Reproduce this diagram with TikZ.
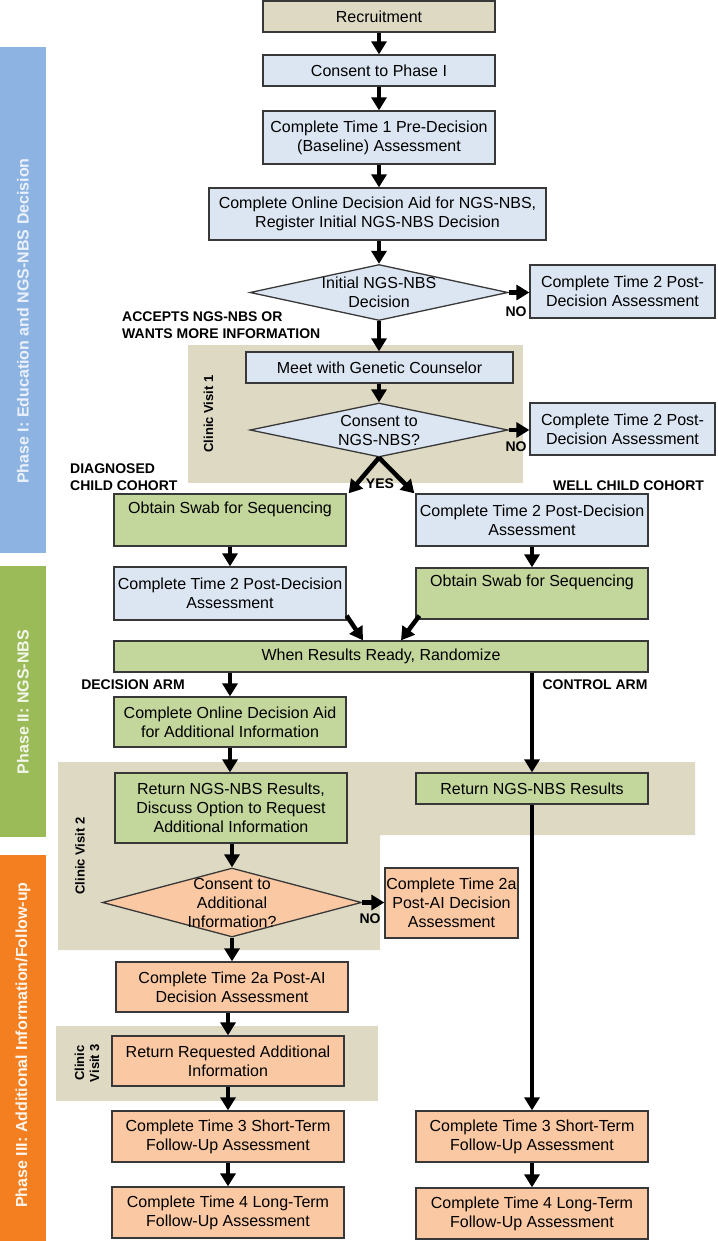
\documentclass[tikz,border=0pt]{standalone}
\usepackage{fontspec}
\setmainfont{Liberation Sans}
\usetikzlibrary{arrows.meta,shapes.geometric,calc}
\definecolor{tanbg}{HTML}{DDD9C3}
\definecolor{bluebox}{HTML}{DCE6F2}
\definecolor{greenbox}{HTML}{C3D69B}
\definecolor{peach}{HTML}{FAC8A2}
\definecolor{barblue}{HTML}{8DB3E2}
\definecolor{bargreen}{HTML}{9BBB59}
\definecolor{barorange}{HTML}{F47F20}
\definecolor{edge}{HTML}{383838}
\begin{document}
\begin{tikzpicture}[x=1pt,y=-1pt,
  box/.style={draw=edge, line width=1.3pt, align=center, inner sep=0pt,
    font=\fontsize{16}{19}\selectfont},
  dia/.style={diamond, draw=edge, line width=1.3pt, inner sep=0pt, aspect=4.6},
  dtxt/.style={align=center, inner sep=0pt, font=\fontsize{16}{19}\selectfont},
  arr/.style={line width=4.5pt, -{Triangle[width=15pt,length=13pt]}},
  lbl/.style={inner sep=0pt, font=\bfseries\fontsize{14}{17}\selectfont},
  bartxt/.style={inner sep=0pt, rotate=90, font=\bfseries\fontsize{16}{19}\selectfont},
  cvtxt/.style={inner sep=0pt, rotate=90, align=center, font=\bfseries\fontsize{13}{15}\selectfont},
]
\useasboundingbox (0,0) rectangle (717,1241);

% phase bars
\fill[barblue] (0,47) rectangle (46,553);
\fill[bargreen] (0,566) rectangle (46,837);
\fill[barorange] (0,855) rectangle (46,1241);
\node[bartxt, text=white!82!barblue] (ph1) at (23,321) {Phase I: Education and NGS-NBS Decision};
\node[bartxt, text=white!88!bargreen] (ph2) at (23,702) {Phase II: NGS-NBS};
\node[bartxt, text=white!92!barorange] (ph3) at (23,1045) {Phase III: Additional Information/Follow-up};

% clinic visit backgrounds
\fill[tanbg] (188,345) rectangle (523,483);
\fill[tanbg] (58,762) -- (695,762) -- (695,835) -- (380,835) -- (380,950) -- (58,950) -- cycle;
\fill[tanbg] (56,1026) rectangle (378,1101);
\node[cvtxt] (cv1) at (208.5,414) {Clinic Visit 1};
\node[cvtxt] (cv2) at (80,856) {Clinic Visit 2};
\node[cvtxt] (cv3) at (87,1063) {Clinic\\Visit 3};

% phase I
\node[box, fill=tanbg, minimum width=232pt, minimum height=31pt] (rec) at (379,16.5) {Recruitment};
\node[box, fill=bluebox, minimum width=232pt, minimum height=31pt] (cons1) at (379,70.5) {Consent to Phase I};
\node[box, fill=bluebox, minimum width=232pt, minimum height=53pt] (t1) at (379,137.5) {Complete Time 1 Pre-Decision\\(Baseline) Assessment};
\node[box, fill=bluebox, minimum width=337pt, minimum height=52pt] (oda) at (377.5,214) {Complete Online Decision Aid for NGS-NBS,\\Register Initial NGS-NBS Decision};
\node[dia, fill=bluebox, minimum width=258pt, minimum height=56pt] (d1) at (379,292.5) {};
\node[dtxt] (d1t) at (379,292.5) {Initial NGS-NBS\\Decision};
\node[box, fill=bluebox, minimum width=185pt, minimum height=53pt] (no1) at (622.5,291.5) {Complete Time 2 Post-\\Decision Assessment};
\node[box, fill=bluebox, minimum width=267pt, minimum height=31pt] (meet) at (379.5,367.5) {Meet with Genetic Counselor};
\node[dia, fill=bluebox, minimum width=258pt, minimum height=54pt] (d2) at (379,430) {};
\node[dtxt] (d2t) at (379,430) {Consent to\\NGS-NBS?};
\node[box, fill=bluebox, minimum width=185pt, minimum height=52pt] (no2) at (622.5,429) {Complete Time 2 Post-\\Decision Assessment};

% cohorts
\node[box, fill=greenbox, minimum width=232pt, minimum height=52pt] (swabL) at (230,520) {Obtain Swab for Sequencing\\\strut};
\node[box, fill=bluebox, minimum width=232pt, minimum height=52pt] (t2R) at (532,520) {Complete Time 2 Post-Decision\\Assessment};
\node[box, fill=bluebox, minimum width=232pt, minimum height=53pt] (t2L) at (230,593.5) {Complete Time 2 Post-Decision\\Assessment};
\node[box, fill=greenbox, minimum width=232pt, minimum height=51pt] (swabR) at (532,593.5) {Obtain Swab for Sequencing\\\strut};

% phase II
\node[box, fill=greenbox, minimum width=534pt, minimum height=31pt] (rand) at (381,656.5) {When Results Ready, Randomize};
\node[box, fill=greenbox, minimum width=232pt, minimum height=50pt] (odaAI) at (230,722) {Complete Online Decision Aid\\for Additional Information};
\node[box, fill=greenbox, minimum width=232pt, minimum height=70pt] (retL) at (231,808) {Return NGS-NBS Results,\\Discuss Option to Request\\Additional Information};
\node[box, fill=greenbox, minimum width=232pt, minimum height=31pt] (retR) at (532,788.5) {Return NGS-NBS Results};

% phase III
\node[dia, fill=peach, minimum width=259pt, minimum height=69pt] (d3) at (232,902.5) {};
\node[dtxt] (d3t) at (232,902.5) {Consent to\\Additional\\Information?};
\node[box, fill=peach, minimum width=133pt, minimum height=70pt] (t2aR) at (451.5,903) {Complete Time 2a\\Post-AI Decision\\Assessment};
\node[box, fill=peach, minimum width=232pt, minimum height=50pt] (t2aL) at (232,987) {Complete Time 2a Post-AI\\Decision Assessment};
\node[box, fill=peach, minimum width=232pt, minimum height=50pt] (rra) at (228,1061) {Return Requested Additional\\Information};
\node[box, fill=peach, minimum width=232pt, minimum height=51pt] (t3L) at (228,1136.5) {Complete Time 3 Short-Term\\Follow-Up Assessment};
\node[box, fill=peach, minimum width=232pt, minimum height=51pt] (t4L) at (228,1212.5) {Complete Time 4 Long-Term\\Follow-Up Assessment};
\node[box, fill=peach, minimum width=232pt, minimum height=51pt] (t3R) at (532,1136.5) {Complete Time 3 Short-Term\\Follow-Up Assessment};
\node[box, fill=peach, minimum width=232pt, minimum height=51pt] (t4R) at (532,1213.5) {Complete Time 4 Long-Term\\Follow-Up Assessment};

% labels
\node[lbl, anchor=west, align=left] (acc) at (122,325) {ACCEPTS NGS-NBS OR\\WANTS MORE INFORMATION};
\node[lbl] (no1l) at (516,312) {NO};
\node[lbl] (no2l) at (516,447) {NO};
\node[lbl] (yes) at (380,484) {YES};
\node[lbl, anchor=west, align=left] (diag) at (70,477) {DIAGNOSED\\CHILD COHORT};
\node[lbl] (well) at (628.5,486) {WELL CHILD COHORT};
\node[lbl] (decarm) at (133,685) {DECISION ARM};
\node[lbl] (ctlarm) at (595,685) {CONTROL ARM};
\node[lbl] (no3l) at (370,919) {NO};

% connectors
\draw[arr] (rec.south) -- (cons1.north);
\draw[arr] (cons1.south) -- (t1.north);
\draw[arr] (t1.south) -- (t1.south |- oda.north);
\draw[arr] (oda.south -| d1.north) -- (d1.north);
\draw[arr] (d1.east) -- (d1.east -| no1.west);
\draw[arr] (d1.south) -- (d1.south |- meet.north);
\draw[arr] (meet.south -| d2.north) -- (d2.north);
\draw[arr] (d2.east) -- (d2.east -| no2.west);
\draw[arr] (d2.south) -- ([xshift=2pt]swabL.north east);
\draw[arr] (d2.south) -- ([xshift=-1pt]t2R.north west);
\draw[arr] (swabL.south) -- (swabL.south |- t2L.north);
\draw[arr] (t2R.south) -- (t2R.south |- swabR.north);
\draw[arr] ([yshift=5pt]t2L.south east) -- ($(rand.north)+(-18,0)$);
\draw[arr] ([shift={(4pt,4pt)}]swabR.south west) -- ($(rand.north)+(20,0)$);
\draw[arr] (rand.south -| odaAI.north) -- (odaAI.north);
\draw[arr] (rand.south -| retR.north) -- (retR.north);
\draw[arr] (odaAI.south) -- (odaAI.south |- retL.north);
\draw[arr] (retL.south -| d3.north) -- (d3.north);
\draw[arr] (d3.east) -- (d3.east -| t2aR.west);
\draw[arr] (d3.south) -- (d3.south |- t2aL.north);
\draw[arr] (t2aL.south -| rra.north) -- (rra.north);
\draw[arr] (rra.south) -- (t3L.north);
\draw[arr] (t3L.south) -- (t4L.north);
\draw[arr] (retR.south) -- (t3R.north);
\draw[arr] (t3R.south) -- (t4R.north);
\end{tikzpicture}
\end{document}
